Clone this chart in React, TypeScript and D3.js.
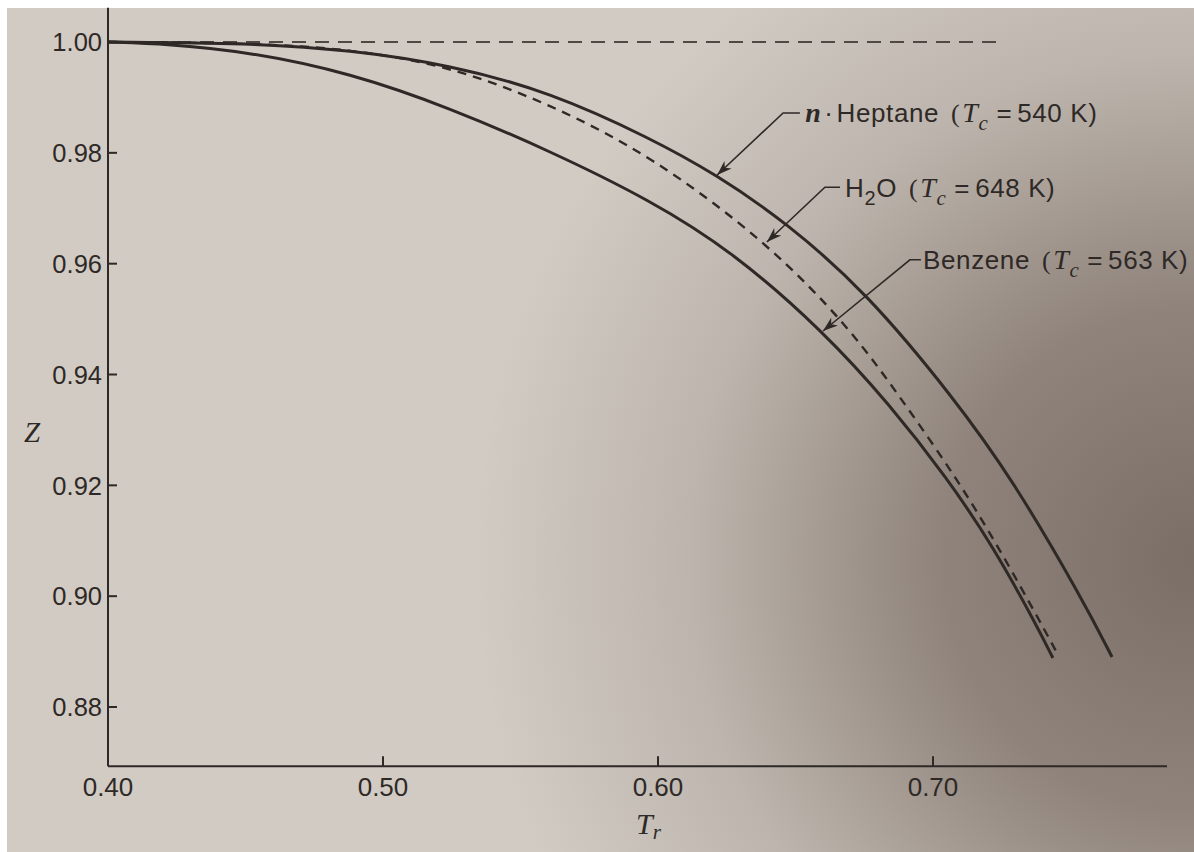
import React from "react";
import * as d3 from "d3";

// readings taken off the figure: reduced temperature Tr and compressibility Z
const heptane = [
  { tr: 0.4, z: 1.0 },
  { tr: 0.4516, z: 0.99982 },
  { tr: 0.488, z: 0.99856 },
  { tr: 0.5244, z: 0.99585 },
  { tr: 0.5607, z: 0.99098 },
  { tr: 0.5971, z: 0.98268 },
  { tr: 0.6215, z: 0.976 },
  { tr: 0.6469, z: 0.96734 },
  { tr: 0.676, z: 0.95471 },
  { tr: 0.7073, z: 0.93594 },
  { tr: 0.7291, z: 0.92096 },
  { tr: 0.7545, z: 0.89931 },
  { tr: 0.7651, z: 0.88902 },
];

const water = [
  { tr: 0.4, z: 1.0 },
  { tr: 0.4516, z: 0.99982 },
  { tr: 0.488, z: 0.99874 },
  { tr: 0.5244, z: 0.99567 },
  { tr: 0.5607, z: 0.98881 },
  { tr: 0.5971, z: 0.97961 },
  { tr: 0.6396, z: 0.96391 },
  { tr: 0.6698, z: 0.94839 },
  { tr: 0.688, z: 0.93594 },
  { tr: 0.7091, z: 0.92096 },
  { tr: 0.7244, z: 0.90833 },
  { tr: 0.7396, z: 0.8948 },
  { tr: 0.7451, z: 0.88975 },
];

const benzene = [
  { tr: 0.4, z: 1.0 },
  { tr: 0.4215, z: 0.99964 },
  { tr: 0.4516, z: 0.9982 },
  { tr: 0.488, z: 0.99441 },
  { tr: 0.5244, z: 0.98809 },
  { tr: 0.5607, z: 0.98033 },
  { tr: 0.5971, z: 0.97149 },
  { tr: 0.6273, z: 0.96211 },
  { tr: 0.66, z: 0.94785 },
  { tr: 0.6844, z: 0.9345 },
  { tr: 0.7051, z: 0.92132 },
  { tr: 0.7218, z: 0.90905 },
  { tr: 0.7378, z: 0.89462 },
  { tr: 0.7436, z: 0.88884 },
];

// ideal gas reference Z = 1
const idealLine = [
  { tr: 0.4, z: 1.0 },
  { tr: 0.7233, z: 1.0 },
];

const xTicks = [0.4, 0.5, 0.6, 0.7];
const yTicks = [1.0, 0.98, 0.96, 0.94, 0.92, 0.9, 0.88];

const INK = "#2e2926";
const SERIF = "'Liberation Serif', 'DejaVu Serif', serif";
const SANS = "'Liberation Sans', Arial, sans-serif";

// label with a subscripted italic T_c part
const TcLabel = ({ px, py, lead, value }) => (
  <text x={px} y={py} dy="0.36em" fontFamily={SANS} fontSize={26} fill={INK} letterSpacing="0.6">
    {lead}
    <tspan fontFamily={SERIF} dx="12">(</tspan>
    <tspan fontFamily={SERIF} fontStyle="italic" fontSize={28} dx="2">T</tspan>
    <tspan fontFamily={SERIF} fontStyle="italic" fontSize={21} dy="8">c</tspan>
    <tspan dy="-8" dx="8">=</tspan>
    <tspan dx="5">{value + " K)"}</tspan>
  </text>
);

const App = () => {
  const x = d3.scaleLinear().domain([0.4, 0.7]).range([108, 933]);
  const y = d3.scaleLinear().domain([0.88, 1.0]).range([707, 42]);

  const line = d3
    .line<{ tr: number; z: number }>()
    .x((d) => x(d.tr))
    .y((d) => y(d.z))
    .curve(d3.curveBasis);

  const x0 = x(0.4);
  const axisY = y(0.8693);
  const axisTop = y(1.0062);
  const axisRight = x(0.7851);

  // callouts: arrow tip on a curve, elbow, then a short horizontal run
  const callouts = [
    { tip: [0.6215, 0.976], elbow: [0.6455, 0.98719], end: [0.6516, 0.98719], key: "hep" },
    { tip: [0.6396, 0.96391], elbow: [0.6607, 0.9738], end: [0.6662, 0.9738], key: "h2o" },
    { tip: [0.66, 0.94785], elbow: [0.6916, 0.9607], end: [0.6956, 0.9607], key: "benz" },
  ];

  return (
    <svg
      width={1194}
      height={852}
      style={{ position: "absolute", left: 0, top: 0 }}
    >
      <defs>
        <radialGradient id="paper" cx="1194" cy="560" r="720" gradientUnits="userSpaceOnUse">
          <stop offset="0" stopColor="#7a6e66" />
          <stop offset="0.35" stopColor="#8f837b" />
          <stop offset="0.7" stopColor="#bdb5ad" />
          <stop offset="1" stopColor="#d1cbc4" />
        </radialGradient>
        <marker
          id="arrow"
          viewBox="0 0 10 10"
          refX="10"
          refY="5"
          markerWidth="15"
          markerHeight="15"
          markerUnits="userSpaceOnUse"
          orient="auto"
        >
          <path d="M0,1.5 L10,5 L0,8.5 L3,5 Z" fill={INK} />
        </marker>
      </defs>

      <rect x={0} y={0} width={1194} height={852} fill="#ffffff" />
      <rect x={7} y={8} width={1187} height={844} fill="url(#paper)" />

      {/* axes */}
      <line x1={x0} y1={axisTop} x2={x0} y2={axisY} stroke={INK} strokeWidth={2} />
      <line x1={x0} y1={axisY} x2={axisRight} y2={axisY} stroke={INK} strokeWidth={2} />

      {yTicks.map((t) => (
        <g key={"y" + t}>
          {t < 1 && (
            <line x1={x0} x2={x0 + 9} y1={y(t)} y2={y(t)} stroke={INK} strokeWidth={2} />
          )}
          <text
            x={x0 - 6}
            y={y(t)}
            dy="0.36em"
            textAnchor="end"
            fontFamily={SANS}
            fontSize={25.5}
            fill={INK}
          >
            {t.toFixed(2)}
          </text>
        </g>
      ))}

      {xTicks.map((t) => (
        <g key={"x" + t}>
          {t > 0.4 && (
            <line x1={x(t)} x2={x(t)} y1={axisY} y2={axisY - 10} stroke={INK} strokeWidth={2} />
          )}
          <text
            x={x(t)}
            y={787}
            dy="0.36em"
            textAnchor="middle"
            fontFamily={SANS}
            fontSize={26}
            fill={INK}
          >
            {t.toFixed(2)}
          </text>
        </g>
      ))}

      <text x={32} y={432} dy="0.36em" textAnchor="middle" fontFamily={SERIF} fontStyle="italic" fontSize={29} fill={INK}>
        Z
      </text>
      <text x={636} y={834} fontFamily={SERIF} fontStyle="italic" fontSize={30} fill={INK}>
        T<tspan fontSize={21} dy="5">r</tspan>
      </text>

      {/* curves */}
      <path d={line(idealLine) ?? ""} fill="none" stroke="#4f4843" strokeWidth={2.2} strokeDasharray="14,9" />
      <path d={line(benzene) ?? ""} fill="none" stroke={INK} strokeWidth={3} />
      <path d={line(heptane) ?? ""} fill="none" stroke={INK} strokeWidth={3} />
      <path d={line(water) ?? ""} fill="none" stroke={INK} strokeWidth={2.4} strokeDasharray="9,7" />

      {/* callouts */}
      {callouts.map((c) => (
        <path
          key={c.key}
          d={`M${x(c.end[0])},${y(c.end[1])} L${x(c.elbow[0])},${y(c.elbow[1])} L${x(c.tip[0])},${y(c.tip[1])}`}
          fill="none"
          stroke={INK}
          strokeWidth={1.6}
          markerEnd="url(#arrow)"
        />
      ))}

      <TcLabel
        px={x(0.6535)}
        py={y(0.98719)}
        value="540"
        lead={
          <>
            <tspan fontFamily={SERIF} fontStyle="italic" fontWeight="bold" fontSize={28}>n</tspan>
            <tspan dx="3">{"\u00b7"}</tspan>
            <tspan dx="3">Heptane</tspan>
          </>
        }
      />
      <TcLabel
        px={x(0.668)}
        py={y(0.9738)}
        value="648"
        lead={
          <>
            <tspan>H</tspan>
            <tspan fontSize={20} dy="8">2</tspan>
            <tspan dy="-8">O</tspan>
          </>
        }
      />
      <TcLabel px={x(0.6964)} py={y(0.9607)} value="563" lead={<tspan>Benzene</tspan>} />
    </svg>
  );
};

export default App;
